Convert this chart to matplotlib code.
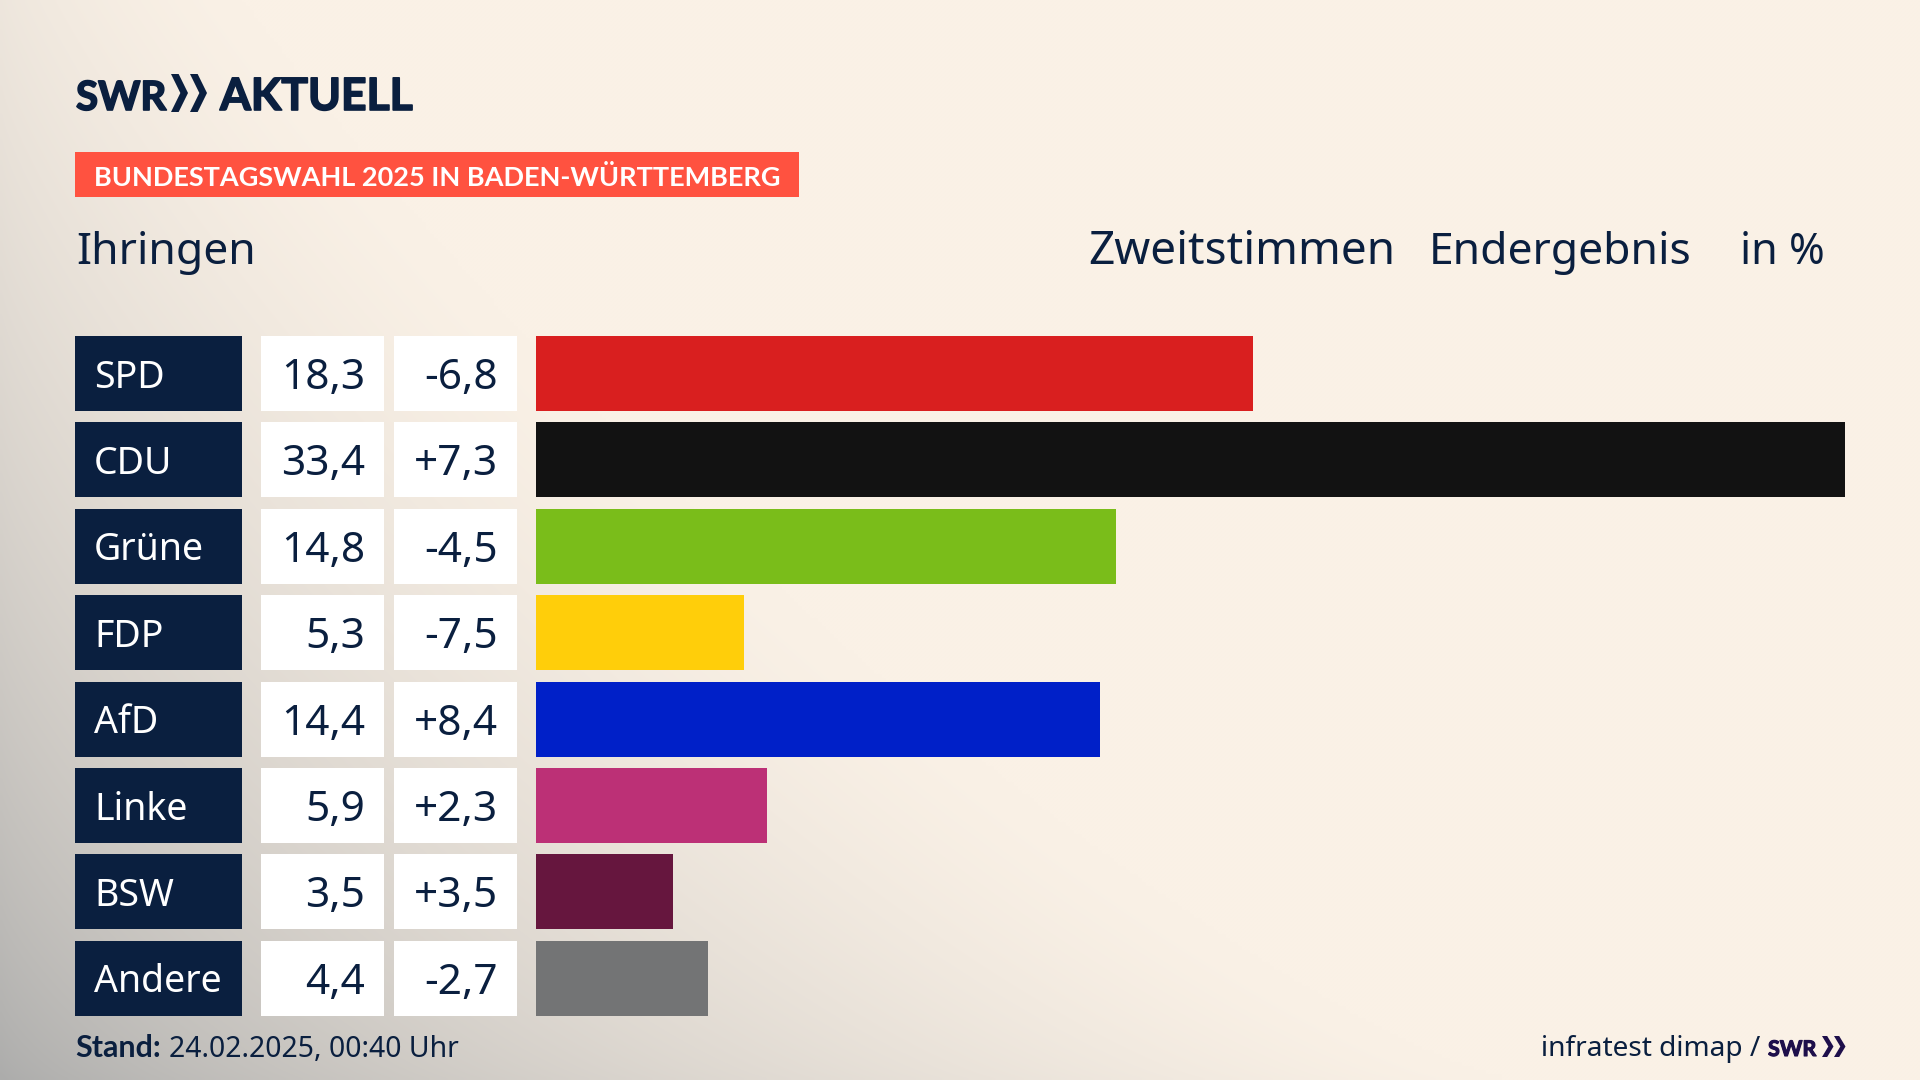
import matplotlib
matplotlib.use("Agg")
import matplotlib.pyplot as plt
import matplotlib.patheffects as pe
from matplotlib.patches import Rectangle, Polygon
import numpy as np

parties = ["SPD", "CDU", "Grüne", "FDP", "AfD", "Linke", "BSW", "Andere"]
values = [18.3, 33.4, 14.8, 5.3, 14.4, 5.9, 3.5, 4.4]
diffs = ["-6,8", "+7,3", "-4,5", "-7,5", "+8,4", "+2,3", "+3,5", "-2,7"]
colors = ["#D91F1F", "#121212", "#7ABD1A", "#FFCE0A", "#0020C8", "#BC3076", "#66163E", "#737475"]

NAVY = "#0A1F3F"
PURPLE = "#1E0F4B"
W, H = 1920, 1080
ROW_TOP, ROW_STEP, ROW_H = 336, 86.4, 75

plt.rcParams["font.family"] = ["Noto Sans", "DejaVu Sans"]
fig = plt.figure(figsize=(19.2, 10.8), dpi=100)

# pixel canvas for everything around the bars
bg = fig.add_axes((0, 0, 1, 1))
bg.set_xlim(0, W)
bg.set_ylim(H, 0)
bg.axis("off")

# grey haze coming out of the bottom left corner
yy, xx = np.mgrid[0:H:270j, 0:W:480j]
d = (xx / 1500) ** 0.8 + ((H - yy) / 1500) ** 0.8
haze = np.clip(1 - d, 0, 1) ** 1.25
cream = np.array([250, 241, 230]) / 255
grey = np.array([172, 172, 171]) / 255
img = cream + (grey - cream) * haze[..., None]
bg.imshow(img, extent=(0, W, H, 0), aspect="auto", interpolation="bilinear", zorder=0)


def chevrons(xs, top, bottom, width, color):
    mid = (top + bottom) / 2
    for x0 in xs:
        bg.add_patch(Polygon([(x0, top), (x0 + width * 0.45, top), (x0 + width, mid),
                              (x0 + width * 0.45, bottom), (x0, bottom), (x0 + width * 0.55, mid)],
                             color=color, lw=0))


# logo
thick = [pe.withStroke(linewidth=1.2, foreground=NAVY)]
bg.text(76, 110, "SWR", family="Lato", weight="bold", fontsize=29, color=NAVY, path_effects=thick)
bg.text(220, 110, "AKTUELL", family="Lato", weight="bold", fontsize=32, color=NAVY, path_effects=thick)
chevrons((171, 190), 74, 112, 17, NAVY)

bg.add_patch(Rectangle((75, 152), 724, 45, color="#FF5240", lw=0))
bg.text(94, 186, "BUNDESTAGSWAHL 2025 IN BADEN-WÜRTTEMBERG", family="Lato", weight="bold",
        fontsize=19.5, color="white")

bg.text(76, 264, "Ihringen", fontsize=32, color=NAVY)
bg.text(1088, 264, "Zweitstimmen", fontsize=33, color=NAVY)
bg.text(1429, 264, "Endergebnis", fontsize=32, color=NAVY)
bg.text(1825, 264, "in %", fontsize=31, color=NAVY, ha="right")

# table part left of the bars
for i, party in enumerate(parties):
    top = ROW_TOP + i * ROW_STEP
    bg.add_patch(Rectangle((75, top), 167, ROW_H, color=NAVY, lw=0))
    bg.add_patch(Rectangle((261, top), 123, ROW_H, color="white", lw=0))
    bg.add_patch(Rectangle((394, top), 123, ROW_H, color="white", lw=0))
    bg.text(94, top + 51.5, party, fontsize=27, color="white")
    bg.text(365, top + 53, f"{values[i]:.1f}".replace(".", ","), fontsize=30.5, color=NAVY, ha="right")
    bg.text(498, top + 53, diffs[i], fontsize=30.5, color=NAVY, ha="right")

# bars, CDU runs the full width
ax = fig.add_axes((536 / W, 1 - (ROW_TOP + 7 * ROW_STEP + ROW_H) / H, 1309 / W, (7 * ROW_STEP + ROW_H) / H))
ax.barh(range(len(parties)), values, height=ROW_H / ROW_STEP, color=colors)
ax.set_xlim(0, max(values))
ax.set_ylim(7 + ROW_H / ROW_STEP / 2, -ROW_H / ROW_STEP / 2)
ax.axis("off")

# footer
bg.text(75, 1057, "Stand:", family="Lato", weight="bold", fontsize=22, color=NAVY)
bg.text(169, 1057, "24.02.2025, 00:40 Uhr", fontsize=20.4, color=NAVY)
bg.text(1760, 1056, "infratest dimap /", fontsize=20.2, color=NAVY, ha="right")
bg.text(1768, 1056, "SWR", family="Lato", weight="bold", fontsize=15.5, color=PURPLE,
        path_effects=[pe.withStroke(linewidth=0.8, foreground=PURPLE)])
chevrons((1822, 1834), 1036, 1057, 11.5, PURPLE)

fig.savefig("out.png", dpi=100)
